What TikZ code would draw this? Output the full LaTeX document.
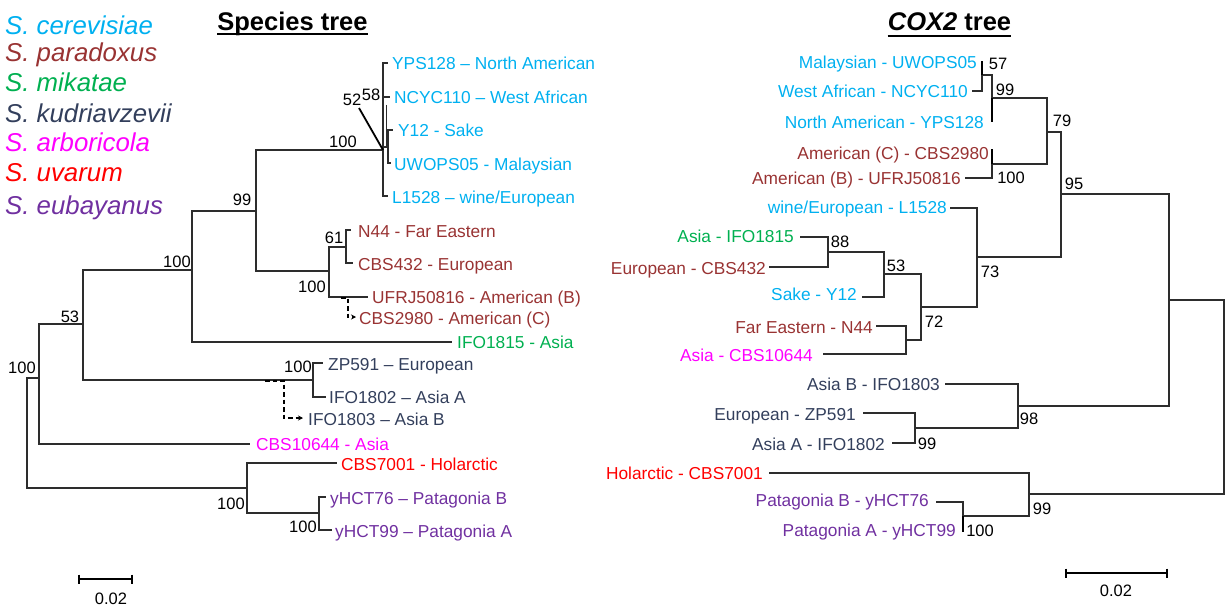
\documentclass[tikz,border=0pt]{standalone}
\usepackage{fontspec}
\setmainfont{Liberation Sans}
\usetikzlibrary{arrows.meta}

\definecolor{cer}{RGB}{0,176,240}
\definecolor{par}{RGB}{153,51,51}
\definecolor{mik}{RGB}{0,176,80}
\definecolor{kud}{RGB}{51,63,92}
\definecolor{arb}{RGB}{255,0,255}
\definecolor{uva}{RGB}{255,0,0}
\definecolor{eub}{RGB}{112,48,160}
\definecolor{branchcol}{RGB}{45,45,45}

\begin{document}
\begin{tikzpicture}[x=1pt,y=-1pt,
  branch/.style={draw=branchcol, line width=1.1pt},
  zerobr/.style={draw=black, line width=2.6pt},
  doubleln/.style={draw=branchcol, line width=1pt},
  pointer/.style={draw=black, line width=1.8pt},
  dasharrow/.style={draw=black, line width=1.8pt, dash pattern=on 4.5pt off 3pt,
    -{Stealth[length=5pt,width=5pt]}},
  leafL/.style={anchor=west, inner sep=0pt, font=\fontsize{17.3}{20}\selectfont,
    text height=12.4pt, text depth=0pt},
  leafR/.style={leafL, anchor=east},
  boot/.style={inner sep=0pt, font=\fontsize{16.5}{19}\selectfont,
    text height=11.9pt, text depth=0pt},
  legend/.style={anchor=west, inner sep=0pt, font=\fontsize{25.8}{30}\selectfont\itshape,
    text height=18.5pt, text depth=0pt},
  title/.style={anchor=base, inner sep=0pt, font=\fontsize{25.5}{30}\selectfont\bfseries},
  uline/.style={draw=black, line width=2pt},
  scalebar/.style={draw=black, line width=1.1pt},
]
\useasboundingbox (0,0) rectangle (1225,607);

% ---------------- species legend ----------------
\node[legend, text=cer] (gcer) at (5,25)  {S. cerevisiae};
\node[legend, text=par] (gpar) at (5,52)  {S. paradoxus};
\node[legend, text=mik] (gmik) at (5,82)  {S. mikatae};
\node[legend, text=kud] (gkud) at (5,113) {S. kudriavzevii};
\node[legend, text=arb] (garb) at (5,142) {S. arboricola};
\node[legend, text=uva] (guva) at (5,172) {S. uvarum};
\node[legend, text=eub] (geub) at (5,205) {S. eubayanus};

% ---------------- titles ----------------
\node[title] (tsp) at (292.5,31) {Species tree};
\draw[uline] ([yshift=-2.6pt]tsp.base west) -- ([yshift=-2.6pt]tsp.base east);
\node[title] (tcox) at (949.5,31) {\itshape COX2\upshape\ tree};
\draw[uline] ([yshift=-5pt]tcox.base west) -- ([yshift=-5pt]tcox.base east);

% ================= species tree =================
% internal nodes
\coordinate (Lr)   at (27,433);
\coordinate (La)   at (39,378);
\coordinate (Lb)   at (83,324);
\coordinate (Lc)   at (192,270);
\coordinate (Ld)   at (256,211);
\coordinate (Lcer) at (383,150);
\coordinate (Lyu)  at (388,147);
\coordinate (Lpar) at (329,271);
\coordinate (Lp61) at (346,247);
\coordinate (Lkud) at (313,380);
\coordinate (Lue)  at (247,488);
\coordinate (Leub) at (319,513);
% tips
\coordinate (tYPS)   at (388,63);
\coordinate (tNCYC)  at (390,97);
\coordinate (tY12)   at (393,130);
\coordinate (tUW)    at (391,163);
\coordinate (tL15)   at (388,196);
\coordinate (tN44)   at (351,230);
\coordinate (tC432)  at (353,263);
\coordinate (tUFRJ)  at (368,297);
\coordinate (tI1815) at (452,342);
\coordinate (tZP)    at (323,363);
\coordinate (tI1802) at (326,397);
\coordinate (tC106)  at (250,444);
\coordinate (tC70)   at (337,463);
\coordinate (tH76)   at (326,497);
\coordinate (tH99)   at (332,530);
\coordinate (tC29)   at (356,317);
\coordinate (tI1803) at (303,418);

\draw[branch] (Lr) |- (La);   \draw[branch] (Lr) |- (Lue);
\draw[branch] (La) |- (Lb);   \draw[branch] (La) |- (tC106);
\draw[branch] (Lb) |- (Lc);   \draw[branch] (Lb) |- (Lkud);
\draw[branch] (Lc) |- (Ld);   \draw[branch] (Lc) |- (tI1815);
\draw[branch] (Ld) |- (Lcer); \draw[branch] (Ld) |- (Lpar);
\draw[branch] (Lcer) |- (tYPS);  \draw[branch] (Lcer) |- (tNCYC);
\draw[branch] (Lcer) |- (Lyu);   \draw[branch] (Lcer) |- (tL15);
\draw[branch] (Lyu) |- (tY12);   \draw[branch] (Lyu) |- (tUW);
\draw[branch] (Lpar) |- (Lp61);  \draw[branch] (Lpar) |- (tUFRJ);
\draw[branch] (Lp61) |- (tN44);  \draw[branch] (Lp61) |- (tC432);
\draw[branch] (Lkud) |- (tZP);   \draw[branch] (Lkud) |- (tI1802);
\draw[branch] (Lue) |- (tC70);   \draw[branch] (Lue) |- (Leub);
\draw[branch] (Leub) |- (tH76);  \draw[branch] (Leub) |- (tH99);

% second stroke beside the S. cerevisiae stem (node 58)
\coordinate (L58a) at (386.5,105);
\coordinate (L58b) at (386.5,147);
\draw[doubleln] (L58a) -- (L58b);

% dashed relocations
\coordinate (dP) at (341,298);
\draw[dasharrow] (dP) -- ++(7,0) |- (tC29);
\coordinate (dK) at (265,381);
\draw[dasharrow] (dK) -- ++(19,0) |- (tI1803);

% tip labels
\node[leafL, text=cer] (lYPS)   at (392,63)  {YPS128 – North American};
\node[leafL, text=cer] (lNCYC)  at (394,97)  {NCYC110 – West African};
\node[leafL, text=cer] (lY12)   at (398,130) {Y12 - Sake};
\node[leafL, text=cer] (lUW)    at (394,164) {UWOPS05 - Malaysian};
\node[leafL, text=cer] (lL15)   at (392,197) {L1528 – wine/European};
\node[leafL, text=par] (lN44)   at (358,231) {N44 - Far Eastern};
\node[leafL, text=par] (lC432)  at (358,264) {CBS432 - European};
\node[leafL, text=par] (lUFRJ)  at (372,297) {UFRJ50816 - American (B)};
\node[leafL, text=par] (lC29)   at (359,318) {CBS2980 - American (C)};
\node[leafL, text=mik] (lI1815) at (457,342) {IFO1815 - Asia};
\node[leafL, text=kud] (lZP)    at (328,364) {ZP591 – European};
\node[leafL, text=kud] (lI1802) at (329,397) {IFO1802 – Asia A};
\node[leafL, text=kud] (lI1803) at (308,419) {IFO1803 – Asia B};
\node[leafL, text=arb] (lC106)  at (256,444) {CBS10644 - Asia};
\node[leafL, text=uva] (lC70)   at (341,464) {CBS7001 - Holarctic};
\node[leafL, text=eub] (lH76)   at (330,498) {yHCT76 – Patagonia B};
\node[leafL, text=eub] (lH99)   at (335,531) {yHCT99 – Patagonia A};

% support values
\node[boot] (bL1)  at (22,368)  {100};
\node[boot] (bL2)  at (70,317)  {53};
\node[boot] (bL3)  at (177,262) {100};
\node[boot] (bL4)  at (242,200) {99};
\node[boot] (bL5)  at (343,142) {100};
\node[boot] (bL52) at (352,100) {52};
\node[boot] (bL58) at (371,95)  {58};
\node[boot] (bL6)  at (334,238) {61};
\node[boot] (bL7)  at (312,287) {100};
\node[boot] (bL8)  at (298,367) {100};
\node[boot] (bL9)  at (231,504) {100};
\node[boot] (bL10) at (303,527) {100};
\coordinate (p52) at (359,108);
\draw[pointer] (p52) -- (Lcer);

% scale bar
\coordinate (sL1) at (79,579);
\coordinate (sL2) at (132,579);
\draw[scalebar] (sL1) -- (sL2);
\draw[scalebar] ([yshift=4.5pt]sL1) -- ([yshift=-4.5pt]sL1);
\draw[scalebar] ([yshift=4.5pt]sL2) -- ([yshift=-4.5pt]sL2);
\node[boot] (sLt) at (111,599) {0.02};

% ================= COX2 tree =================
\coordinate (Rr)    at (1224,397);
\coordinate (Rbig)  at (1169,300);
\coordinate (R95)   at (1061,194);
\coordinate (R79)   at (1047,132);
\coordinate (R99)   at (992,98);
\coordinate (R57)   at (982,75);
\coordinate (R100c) at (992,164);
\coordinate (R73)   at (977,257);
\coordinate (R72)   at (921,307);
\coordinate (R53)   at (884,274);
\coordinate (R88)   at (828,252);
\coordinate (R44)   at (906,340);
\coordinate (R98)   at (1018,406);
\coordinate (R99k)  at (915,428);
\coordinate (R99u)  at (1029,494);
\coordinate (R100e) at (963,516);
% tips
\coordinate (sMal)   at (982,61);
\coordinate (sWA)    at (972,91);
\coordinate (sNA)    at (992,122);
\coordinate (sAC)    at (992,149);
\coordinate (sAB)    at (965,178);
\coordinate (sL15)   at (950,208);
\coordinate (sI1815) at (800,237);
\coordinate (sC432)  at (769,267);
\coordinate (sY12)   at (862,297);
\coordinate (sN44)   at (876,326);
\coordinate (sC106)  at (823,354);
\coordinate (sI1803) at (945,384);
\coordinate (sZP)    at (863,413);
\coordinate (sI1802) at (892,443);
\coordinate (sC70)   at (769,473);
\coordinate (sH76)   at (936,502);
\coordinate (sH99)   at (963,532);

\draw[branch] (Rr) |- (Rbig);   \draw[branch] (Rr) |- (R99u);
\draw[branch] (Rbig) |- (R95);  \draw[branch] (Rbig) |- (R98);
\draw[branch] (R95) |- (R79);   \draw[branch] (R95) |- (R73);
\draw[branch] (R79) |- (R99);   \draw[branch] (R79) |- (R100c);
\draw[branch] (R99) |- (R57);   \draw[zerobr] (R99) -- (sNA);
\draw[branch] (R57) |- (sWA);   \draw[zerobr] (R57) -- (sMal);
\draw[branch] (R100c) |- (sAB); \draw[zerobr] (R100c) -- (sAC);
\draw[branch] (R73) |- (sL15);  \draw[branch] (R73) |- (R72);
\draw[branch] (R72) |- (R53);   \draw[branch] (R72) |- (R44);
\draw[branch] (R53) |- (R88);   \draw[branch] (R53) |- (sY12);
\draw[branch] (R88) |- (sI1815); \draw[branch] (R88) |- (sC432);
\draw[branch] (R44) |- (sN44);  \draw[branch] (R44) |- (sC106);
\draw[branch] (R98) |- (sI1803); \draw[branch] (R98) |- (R99k);
\draw[branch] (R99k) |- (sZP);  \draw[branch] (R99k) |- (sI1802);
\draw[branch] (R99u) |- (sC70); \draw[branch] (R99u) |- (R100e);
\draw[branch] (R100e) |- (sH76); \draw[zerobr] (R100e) -- (sH99);

% tip labels
\node[leafR, text=cer] (mMal)   at (977,62)  {Malaysian - UWOPS05};
\node[leafR, text=cer] (mWA)    at (968,91)  {West African - NCYC110};
\node[leafR, text=cer] (mNA)    at (984,122) {North American - YPS128};
\node[leafR, text=par] (mAC)    at (989,153) {American (C) - CBS2980};
\node[leafR, text=par] (mAB)    at (961,178) {American (B) - UFRJ50816};
\node[leafR, text=cer] (mL15)   at (947,207) {wine/European - L1528};
\node[leafR, text=mik] (mI1815) at (794,236) {Asia - IFO1815};
\node[leafR, text=par] (mC432)  at (766,268) {European - CBS432};
\node[leafR, text=cer] (mY12)   at (857,294) {Sake - Y12};
\node[leafR, text=par] (mN44)   at (873,327) {Far Eastern - N44};
\node[leafR, text=arb] (mC106)  at (813,355) {Asia - CBS10644};
\node[leafR, text=kud] (mI1803) at (940,384) {Asia B - IFO1803};
\node[leafR, text=kud] (mZP)    at (856,414) {European - ZP591};
\node[leafR, text=kud] (mI1802) at (885,444) {Asia A - IFO1802};
\node[leafR, text=uva] (mC70)   at (763,473) {Holarctic - CBS7001};
\node[leafR, text=eub] (mH76)   at (929,500) {Patagonia B - yHCT76};
\node[leafR, text=eub] (mH99)   at (956,530) {Patagonia A - yHCT99};

% support values
\node[boot] (bR1)  at (998,64)   {57};
\node[boot] (bR2)  at (1005,90)  {99};
\node[boot] (bR3)  at (1011,178) {100};
\node[boot] (bR4)  at (1062,121) {79};
\node[boot] (bR5)  at (1074,184) {95};
\node[boot] (bR6)  at (990,272)  {73};
\node[boot] (bR7)  at (840,242)  {88};
\node[boot] (bR8)  at (896,266)  {53};
\node[boot] (bR9)  at (934,322)  {72};
\node[boot] (bR10) at (1029,419) {98};
\node[boot] (bR11) at (927,444)  {99};
\node[boot] (bR12) at (1042,509) {99};
\node[boot] (bR13) at (980,531)  {100};

% scale bar
\coordinate (sR1) at (1066,573);
\coordinate (sR2) at (1167,573);
\draw[scalebar] (sR1) -- (sR2);
\draw[scalebar] ([yshift=4.5pt]sR1) -- ([yshift=-4.5pt]sR1);
\draw[scalebar] ([yshift=4.5pt]sR2) -- ([yshift=-4.5pt]sR2);
\node[boot] (sRt) at (1116,591) {0.02};
\end{tikzpicture}
\end{document}
